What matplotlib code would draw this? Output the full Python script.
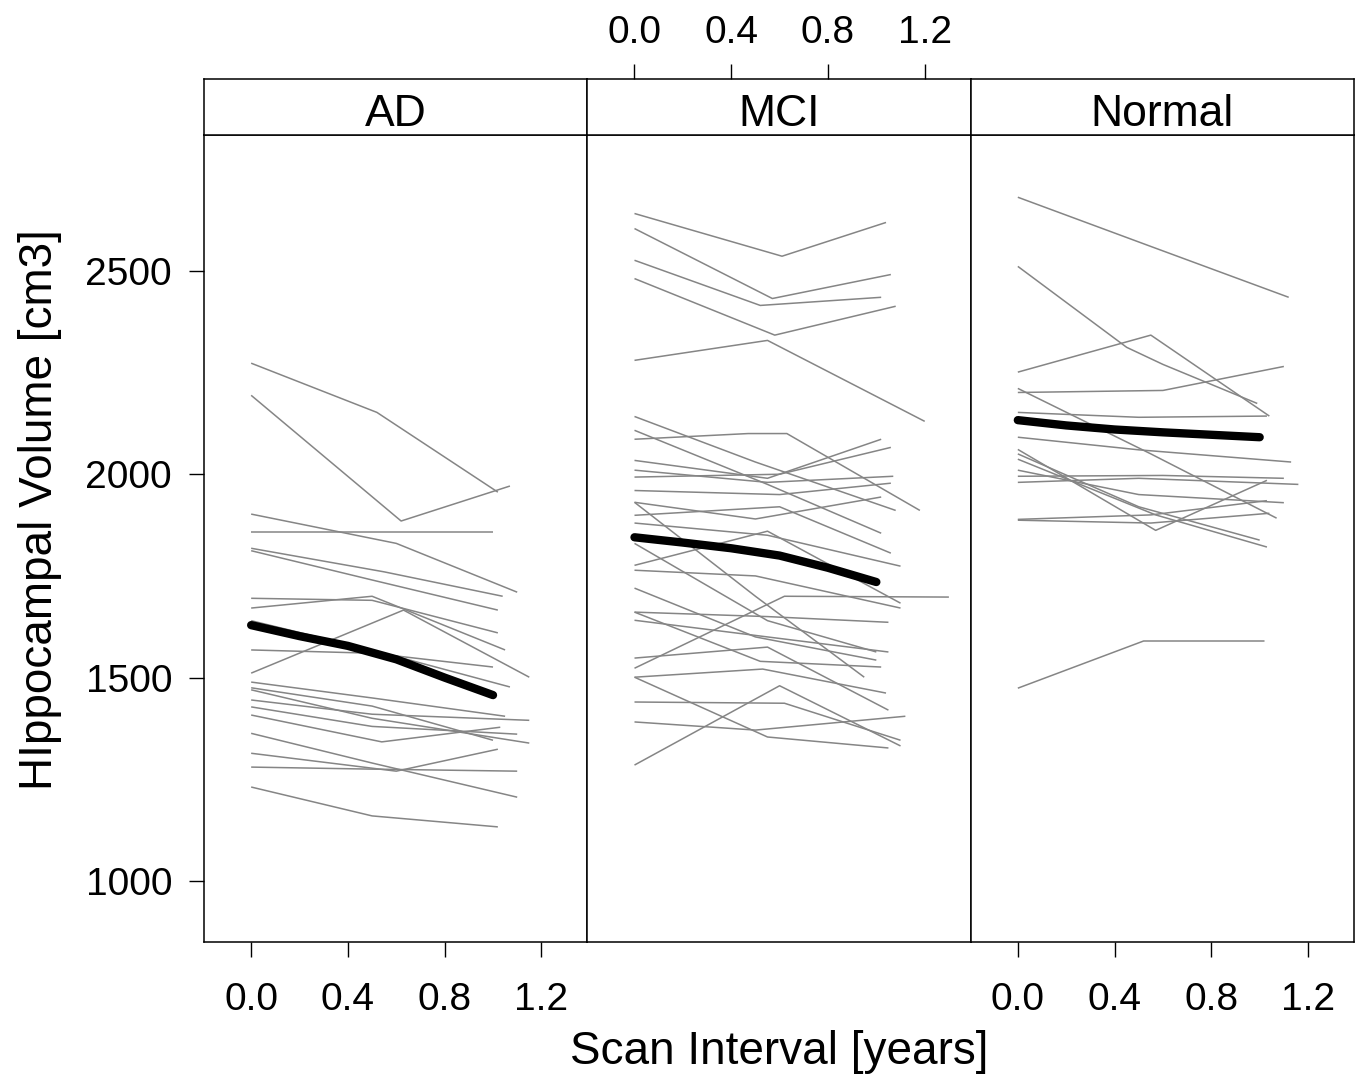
import matplotlib.pyplot as plt

plt.rcParams["font.family"] = ["Liberation Sans", "DejaVu Sans"]

GROUPS = ["AD", "MCI", "Normal"]

# per-subject scan times (years) and hippocampal volumes
ad_times = [
    [0, 0.52, 1.02], [0, 0.62, 1.07], [0, 0.6, 1.1], [0, 0.5, 1.0],
    [0, 0.55, 1.04], [0, 0.5, 1.02], [0, 0.5, 1.02], [0, 0.5, 1.05],
    [0, 0.5, 1.0], [0, 0.63, 1.15], [0, 0.5, 1.05], [0, 0.55, 1.07],
    [0, 0.5, 1.15], [0, 0.54, 1.03], [0, 0.5, 1.1], [0, 0.5, 1.1],
    [0, 0.6, 1.02], [0, 0.5, 1.1], [0, 0.5, 1.02], [0, 0.5, 1.15],
    [0, 0.5, 1.0],
]
ad_volumes = [
    [2273, 2152, 1956], [2194, 1885, 1971], [1902, 1830, 1710], [1857, 1857, 1857],
    [1818, 1760, 1700], [1812, 1740, 1666], [1695, 1690, 1610], [1671, 1700, 1568],
    [1568, 1560, 1526], [1511, 1666, 1501], [1489, 1450, 1405], [1640, 1560, 1477],
    [1445, 1410, 1395], [1408, 1342, 1378], [1428, 1380, 1361], [1363, 1290, 1206],
    [1314, 1270, 1324], [1280, 1275, 1270], [1231, 1160, 1133], [1470, 1400, 1339],
    [1475, 1430, 1346],
]

mci_times = [
    [0, 0.61, 1.04], [0, 0.57, 1.06], [0, 0.52, 1.02], [0, 0.58, 1.08],
    [0, 0.55, 1.2], [0, 0.5, 1.08], [0, 0.55, 1.02], [0, 0.47, 0.63, 1.18],
    [0, 0.55, 1.02], [0, 0.6, 1.06], [0, 0.55, 1.07], [0, 0.6, 1.06],
    [0, 0.5, 1.02], [0, 0.6, 1.06], [0, 0.55, 1.1], [0, 0.55, 1.1],
    [0, 0.5, 1.1], [0, 0.5, 0.95], [0, 0.55, 1.05], [0, 0.55, 1.05],
    [0, 0.62, 1.3], [0, 0.55, 1.05], [0, 0.53, 1.04], [0, 0.62, 1.1],
    [0, 0.5, 1.12], [0, 0.6, 1.1], [0, 0.55, 1.05], [0, 0.52, 1.02],
    [0, 0.5, 1.0], [0, 0.55, 1.0],
]
mci_volumes = [
    [2641, 2536, 2619], [2604, 2432, 2491], [2526, 2415, 2435], [2481, 2342, 2413],
    [2280, 2329, 2130], [2142, 2030, 1911], [2108, 1975, 1855], [2086, 2100, 2100, 1911],
    [2034, 1990, 2086], [1993, 2000, 2066], [2010, 1980, 1995], [1960, 1950, 1978],
    [1931, 1890, 1944], [1899, 1920, 1806], [1880, 1850, 1774], [1776, 1860, 1683],
    [1764, 1750, 1671], [1931, 1700, 1501], [1661, 1650, 1636], [1641, 1600, 1563],
    [1523, 1700, 1698], [1548, 1575, 1420], [1501, 1521, 1462], [1440, 1437, 1346],
    [1391, 1371, 1405], [1285, 1480, 1332], [1501, 1354, 1327], [1661, 1540, 1526],
    [1720, 1600, 1543], [1830, 1640, 1563],
]

normal_times = [
    [0, 0.55, 1.12], [0, 0.45, 0.6, 0.99], [0, 0.55, 1.04], [0, 0.6, 1.1],
    [0, 0.55, 1.07], [0, 0.5, 1.03], [0, 0.5, 1.13], [0, 0.57, 1.03],
    [0, 0.57, 1.03], [0, 0.5, 1.0], [0, 0.5, 1.16], [0, 0.55, 1.03],
    [0, 0.55, 1.04], [0, 0.52, 1.02], [0, 0.6, 1.1], [0, 0.5, 1.1],
]
normal_volumes = [
    [2681, 2560, 2435], [2511, 2312, 2270, 2174], [2251, 2342, 2143], [2201, 2206, 2265],
    [2211, 2050, 1892], [2152, 2140, 2143], [2091, 2060, 2030], [2061, 1862, 1985],
    [2037, 1900, 1821], [2050, 1920, 1838], [1980, 1990, 1975], [1889, 1900, 1935],
    [1887, 1880, 1904], [1474, 1590, 1590], [1995, 1997, 1990], [2010, 1950, 1930],
]

# group mean trends (thick black curves)
mean_times = [0.0, 0.2, 0.4, 0.6, 0.8, 1.0]
ad_mean = [1629, 1602, 1578, 1545, 1500, 1457]
mci_mean = [1845, 1832, 1818, 1800, 1770, 1735]
normal_mean = [2133, 2120, 2110, 2103, 2097, 2091]

X_TICKS = [0.0, 0.4, 0.8, 1.2]
Y_TICKS = [1000, 1500, 2000, 2500]
XLIM = (-0.195, 1.39)
YLIM = (850, 2834)

panels = [
    (ad_times, ad_volumes, ad_mean),
    (mci_times, mci_volumes, mci_mean),
    (normal_times, normal_volumes, normal_mean),
]

fig = plt.figure(figsize=(13.6, 10.83), dpi=100)

left, bottom = 204 / 1360, 1 - 942 / 1083
width = (1354 - 204) / 3 / 1360
height = (942 - 135) / 1083
strip_h = 56 / 1083
tick_fs = 28

for i, (name, (times, vols, mean)) in enumerate(zip(GROUPS, panels)):
    x0 = left + i * width
    ax = fig.add_axes([x0, bottom, width, height])
    strip = fig.add_axes([x0, bottom + height, width, strip_h])

    for t, v in zip(times, vols):
        ax.plot(t, v, color="#858585", lw=1.1, solid_capstyle="butt")
    ax.plot(mean_times, mean, color="black", lw=6, solid_capstyle="round")

    ax.set_xlim(*XLIM)
    ax.set_ylim(*YLIM)
    strip.set_xlim(*XLIM)
    strip.set_ylim(0, 1)
    strip.text(0.5, 0.36, name, transform=strip.transAxes,
               ha="center", va="center", fontsize=32)

    for a in (ax, strip):
        for s in a.spines.values():
            s.set_linewidth(1.1)
    strip.set_yticks([])

    ax.tick_params(direction="out", length=11, width=1.0, labelsize=tick_fs)
    strip.tick_params(direction="out", length=11, width=1.0, labelsize=tick_fs)

    if i == 0:
        ax.set_yticks(Y_TICKS)
        ax.tick_params(axis="y", pad=12)
    else:
        ax.set_yticks([])

    if i == 1:
        ax.set_xticks([])
        strip.xaxis.tick_top()
        strip.set_xticks(X_TICKS)
        strip.set_xticklabels([f"{v:.1f}" for v in X_TICKS])
        strip.tick_params(axis="x", pad=9)
    else:
        ax.set_xticks(X_TICKS)
        ax.set_xticklabels([f"{v:.1f}" for v in X_TICKS])
        ax.tick_params(axis="x", pad=18)
        strip.set_xticks([])

fig.text(left + 1.5 * width, 1 - 1052 / 1083, "Scan Interval [years]",
         ha="center", va="center", fontsize=33)
fig.text(40 / 1360, 1 - 510 / 1083, "HIppocampal Volume [cm3]",
         ha="center", va="center", rotation=90, fontsize=33)

fig.savefig("out.png", dpi=100, facecolor="white")
